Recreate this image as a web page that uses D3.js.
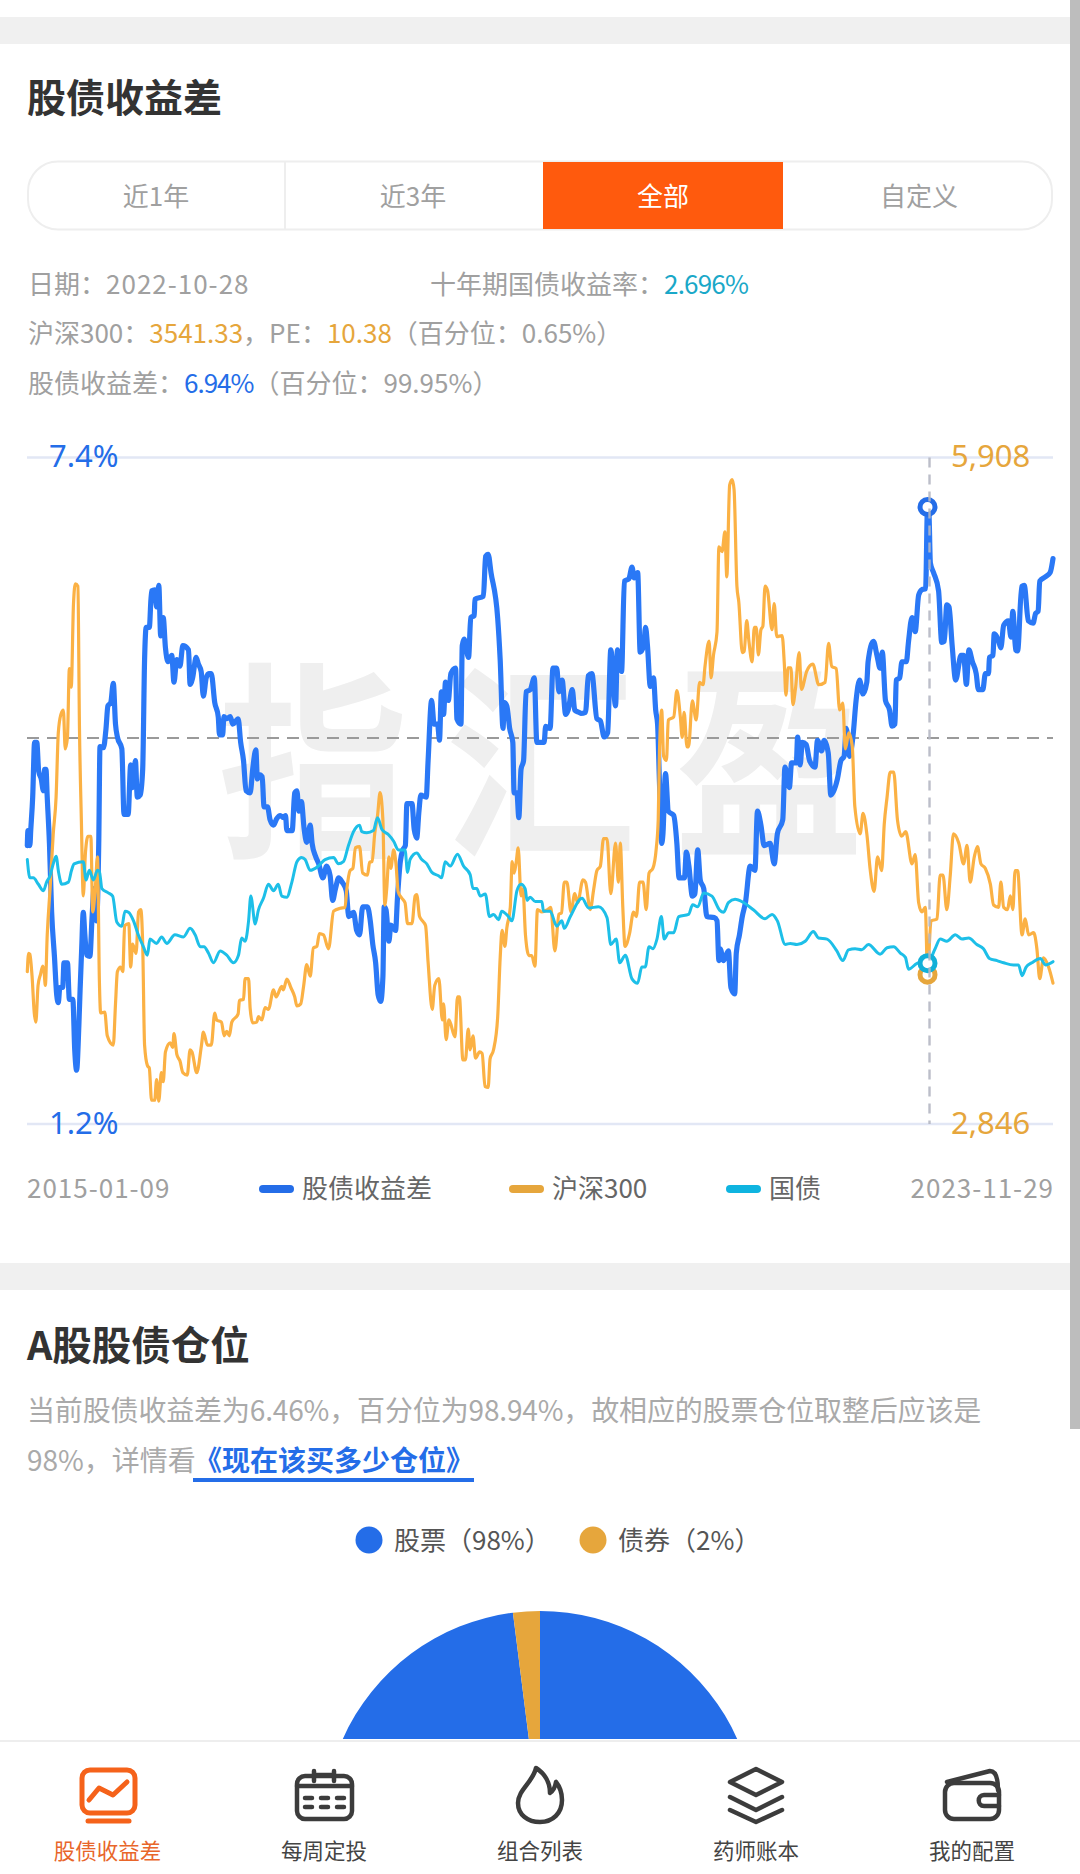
<!DOCTYPE html>
<html>
<head>
<meta charset="utf-8">
<script src="https://cdn.jsdelivr.net/npm/d3@7"></script>
<style>
html, body { margin: 0; padding: 0; background: #fff; }
svg { display: block; }
text { font-family: "Noto Sans CJK SC", "Noto Sans", sans-serif; }
</style>
</head>
<body>
<svg id="page" width="1080" height="1874"></svg>
<script>
// day offsets are counted from startDate
var startDate = "2015-01-09";
var endDate = "2023-11-29";
var markDate = "2022-10-28";

var spreadDays = [1,3,9,12,18,24,31,37,45,52,56,60,64,71,78,87,94,99,104,113,117,128,134,145,151,157,164,168,173,178,183,189,199,206,212,220,227,231,242,250,256,265,273,280,286,300,307,320,328,334,343,349,358,366,372,377,387,394,404,410,417,423,431,438,446,458,465,474,484,493,511,516,524,535,542,551,558,567,575,583,594,605,609,619,623,632,643,651,668,676,685,693,706,714,724,729,735,744,750,761,769,780,790,801,811,818,822,839,847,854,860,868,877,885,896,902,913,923,936,948,959,967,976,986,997,1010,1018,1033,1043,1052,
1062,1077,1086,1094,1103,1111,1119,1126,1130,1136,1145,1151,1160,1166,1172,1181,1189,1197,1202,1218,1225,1233,1240,1246,1263,1269,1280,1288,1299,1305,1311,1318,1324,1333,1341,1356,1360,1373,1377,1383,1397,1404,1415,1417,1444,1451,1459,1468,1489,1497,1506,1510,1518,1527,1537,1541,1550,1556,1563,1571,1579,1592,1605,1613,1636,1641,1655,1664,1676,1683,1693,1704,1712,1725,1733,1746,1752,1767,1776,1787,1803,1814,1826,1837,1847,1862,1868,1881,1890,1904,1914,1921,1932,1940,1951,1957,1963,1972,1982,1989,1995,2001,2008,2012,2020,2029,2046,2056,2063,2080,2086,2094,2105,2113,2122,2130,2141,2151,2174,2183,2189,
2193,2204,2219,2227,2239,2244,2254,2263,2273,2288,2303,2311,2322,2332,2351,2364,2374,2391,2398,2412,2419,2434,2438,2446,2453,2465,2476,2493,2501,2514,2522,2535,2543,2564,2575,2585,2592,2602,2613,2623,2634,2645,2657,2661,2678,2689,2699,2706,2716,2729,2737,2746,2750,2761,2768,2782,2789,2800,2810,2821,2831,2843,2849,2853,2858,2868,2884,2894,2902,2910,2917,2927,2938,2955,2963,2972,2980,2991,3003,3010,3024,3032,3042,3045,3056,3060,3074,3081,3090,3105,3113,3119,3128,3134,3147,3155,3168,3183,3191,3199,3204,3222,3237,3246];
var spreadValues = [3.79,3.93,3.79,3.94,4.24,4.75,4.75,4.48,4.41,4.30,4.50,4.50,4.24,3.81,3.17,2.75,2.40,2.33,2.47,2.47,2.70,2.70,2.36,2.36,1.89,1.70,2.11,2.45,2.83,3.17,2.96,2.77,2.76,3.13,3.39,3.09,3.81,4.71,4.70,4.88,5.09,5.12,5.30,4.92,4.80,4.69,4.08,4.08,4.54,4.33,4.58,4.24,4.26,4.50,5.52,5.82,5.82,6.16,6.17,6.01,6.21,5.74,5.91,5.63,5.50,5.56,5.31,5.52,5.46,5.65,5.61,5.29,5.35,5.54,5.48,5.41,5.18,5.35,5.39,5.39,5.12,4.99,4.82,4.82,4.99,4.97,4.99,4.92,4.97,4.75,4.58,4.30,4.28,4.50,4.68,4.41,4.45,4.43,4.15,4.15,4.03,3.98,4.04,4.07,4.05,4.07,3.93,3.93,4.28,4.30,4.11,4.20,3.94,3.82,3.98,3.81,3.69,3.62,3.49,3.60,3.51,3.28,3.39,3.49,3.45,3.37,3.13,3.17,3.00,2.96,
3.22,3.22,3.09,2.87,2.70,2.40,2.34,2.57,3.22,3.19,2.90,3.05,3.02,3.00,3.30,3.64,3.75,3.79,4.18,4.18,3.94,3.86,4.11,4.26,4.24,4.58,5.14,4.92,4.92,4.77,5.22,5.01,5.31,5.14,5.39,5.44,4.97,4.92,5.65,5.71,5.54,5.91,5.93,6.08,6.11,6.48,6.50,6.33,5.91,5.52,4.88,5.12,5.09,4.88,4.75,4.28,4.28,4.05,4.50,4.58,5.22,5.24,5.35,4.75,4.75,4.90,4.88,5.44,5.44,5.22,5.33,5.01,5.05,5.24,5.05,5.03,5.02,5.03,5.37,5.39,4.97,4.95,4.80,4.84,5.61,5.09,5.61,5.41,6.25,6.27,6.38,6.28,6.33,5.59,5.65,5.82,5.65,5.27,5.35,5.05,4.92,4.37,3.81,3.90,4.46,4.11,4.07,3.81,3.49,3.49,3.73,3.60,3.32,3.34,3.75,3.47,3.39,3.13,3.12,3.09,2.72,
2.83,2.72,2.81,2.47,2.41,2.79,2.96,3.13,3.26,3.60,3.56,4.11,3.98,3.79,3.81,3.62,3.90,4.03,4.52,4.33,4.56,4.56,4.80,4.54,4.75,4.73,4.58,4.52,4.77,4.67,4.77,4.65,4.26,4.41,4.58,4.62,4.88,4.62,4.80,5.14,5.33,5.20,5.31,5.50,5.69,5.56,5.44,5.59,5.14,5.05,4.90,4.92,5.33,5.35,5.50,5.50,5.69,5.91,5.78,6.12,6.17,6.18,6.94,6.93,6.42,6.33,6.16,5.68,5.69,6.03,6.01,5.65,5.33,5.56,5.56,5.29,5.61,5.50,5.39,5.24,5.24,5.39,5.39,5.54,5.56,5.76,5.69,5.63,5.84,5.88,5.73,5.97,5.61,5.60,6.20,6.21,5.88,5.86,5.95,5.97,6.25,6.29,6.33,6.46];

var indexDays = [1,5,9,16,23,28,35,43,50,54,58,64,73,83,92,99,107,115,121,128,134,140,147,153,161,166,172,178,185,193,202,208,216,223,229,233,246,254,273,280,286,296,303,309,322,328,334,345,353,360,366,372,381,387,394,404,410,417,425,431,438,453,461,465,474,484,493,507,516,522,537,552,558,571,583,594,600,615,624,632,640,648,668,672,685,690,701,706,714,727,732,743,753,764,780,788,806,811,822,835,847,854,866,875,885,896,906,917,925,938,954,970,991,1006,1012,1022,1031,1039,1052,
1062,1077,1084,1092,1100,1109,1117,1126,1132,1138,1145,1151,1160,1168,1174,1186,1196,1204,1218,1228,1233,1242,1254,1261,1269,1282,1290,1303,1314,1318,1326,1335,1354,1362,1368,1379,1387,1396,1402,1411,1419,1432,1440,1449,1459,1465,1476,1489,1497,1503,1512,1518,1529,1535,1541,1548,1554,1563,1569,1577,1588,1597,1607,1615,1629,1647,1657,1670,1683,1691,1700,1708,1721,1733,1742,1759,1767,1782,1793,1803,1814,1824,1835,1847,1862,1871,1877,1885,1892,1906,1919,1928,1938,1949,1959,1968,1980,1991,1997,2001,2008,2014,2023,2029,2046,2056,2067,2073,2079,2088,2093,2105,2117,2128,2139,2145,2158,2164,2172,2183,2189,
2199,2208,2214,2223,2231,2237,2246,2252,2263,2269,2277,2284,2294,2301,2307,2314,2322,2328,2335,2343,2357,2364,2372,2389,2396,2401,2408,2417,2423,2431,2443,2450,2467,2486,2505,2525,2536,2546,2560,2571,2581,2589,2600,2611,2619,2636,2645,2657,2668,2680,2691,2704,2712,2721,2731,2742,2754,2767,2780,2800,2810,2821,2831,2842,2849,2860,2879,2889,2898,2910,2921,2931,2948,2963,2974,2984,2997,3007,3018,3032,3048,3058,3074,3081,3090,3102,3111,3119,3126,3134,3148,3158,3169,3185,3195,3204,3216,3232,3246];
var indexValues = [3546,3630,3626,3525,3356,3314,3483,3535,3571,3546,3483,3715,3926,4179,4347,4643,4727,4748,4569,4622,4938,4853,5233,5328,5317,4664,4242,3894,4094,4168,4168,3820,3926,4073,3504,3356,3360,3251,3208,3398,3546,3567,3546,3757,3767,3567,3672,3630,3820,3831,3672,3208,3114,3103,2955,2955,3050,2951,3082,3040,3177,3219,3198,3261,3166,3135,3082,3071,3187,3177,3082,3208,3268,3208,3208,3356,3324,3314,3251,3272,3251,3314,3352,3413,3419,3514,3514,3377,3310,3314,3339,3324,3381,3373,3462,3430,3478,3462,3512,3472,3430,3388,3398,3478,3578,3525,3655,3662,3721,3715,3651,3824,3837,3841,3926,4010,4020,4115,4120,
3999,3989,4048,4052,4179,4263,4368,4242,3852,3926,4073,4020,4105,4031,3915,3883,3862,3767,3767,3894,3900,3799,3774,3757,3588,3373,3483,3514,3324,3398,3234,3324,3246,3430,3430,3141,3141,3282,3187,3251,3149,3177,3170,3019,3014,3145,3187,3335,3609,3736,3662,3746,3841,4052,3999,4052,4115,3894,3926,3715,3620,3620,3571,3831,3820,3831,3841,3641,3810,3816,3957,3957,3820,3904,3862,3968,3957,3831,3926,4010,4031,4157,4157,3904,4136,3957,4136,3841,3662,3719,3820,3799,3957,3957,3831,3999,4020,4115,4242,4558,4748,4537,4516,4702,4716,4837,4716,4622,4737,4579,4579,4790,4702,4875,4864,4948,5064,4896,5001,5107,5497,
5476,5566,5360,5781,5807,5760,5317,5244,5012,5018,5159,5064,4969,5128,5128,5001,5117,5132,5317,5296,5117,5237,5085,5090,4959,4816,4942,4942,4773,4843,5012,4843,4927,4959,4864,4875,5054,4948,4938,4748,4780,4569,4643,4579,4305,4179,4273,4179,4010,3915,4073,4010,4221,4347,4463,4463,4242,4168,4189,4041,4084,3862,3820,3841,3541.33,3778,3788,3989,3989,3831,3989,4179,4136,4041,4126,3957,4073,4120,4041,4020,3947,3852,3841,3957,3841,3831,3894,3831,4010,4010,3715,3788,3715,3725,3651,3514,3609,3567,3493];

var bondDays = [1,9,20,36,52,62,73,83,92,100,110,131,141,149,178,187,197,210,223,229,237,257,271,284,300,310,321,337,352,368,381,389,410,426,442,468,495,516,532,548,560,574,590,611,632,653,669,679,690,701,708,722,732,748,764,780,795,806,822,838,854,869,880,896,922,943,970,985,1001,1017,1033,1052,
1059,1075,1096,1109,1123,1144,1160,1175,1196,1204,1212,1233,1249,1265,1281,1302,1312,1323,1339,1362,1381,1402,1411,1423,1434,1450,1463,1476,1492,1502,1523,1534,1550,1563,1576,1582,1592,1608,1629,1634,1655,1676,1692,1700,1719,1756,1777,1808,1835,1847,1864,1875,1893,1914,1932,1945,1956,1968,1980,1993,2007,2016,2030,2046,2062,2093,2106,2122,2141,2167,2191,
2204,2219,2240,2267,2299,2335,2357,2374,2399,2415,2436,2462,2488,2504,2531,2562,2581,2599,2620,2641,2662,2699,2721,2742,2763,2779,2789,2821,2849,2873,2889,2910,2937,2958,2979,3005,3026,3045,3069,3090,3121,3137,3148,3161,3179,3206,3222,3246];
var bondValues = [3.66,3.49,3.49,3.43,3.37,3.45,3.51,3.62,3.69,3.54,3.43,3.45,3.56,3.62,3.64,3.47,3.56,3.47,3.56,3.55,3.39,3.35,3.32,3.08,3.04,3.18,3.17,3.09,2.96,2.85,2.77,2.92,2.88,2.94,2.88,2.96,2.94,3.02,2.96,2.85,2.85,2.79,2.70,2.81,2.77,2.70,2.77,2.93,2.90,3.09,3.32,3.06,3.19,3.30,3.43,3.37,3.43,3.32,3.31,3.45,3.64,3.68,3.66,3.56,3.60,3.66,3.68,3.62,3.64,3.79,3.92,3.98,
3.92,3.91,3.93,4.05,3.94,3.89,3.83,3.75,3.75,3.54,3.66,3.72,3.66,3.62,3.54,3.51,3.49,3.64,3.60,3.71,3.60,3.52,3.39,3.39,3.32,3.34,3.13,3.15,3.10,3.18,3.13,3.09,3.37,3.43,3.39,3.28,3.31,3.27,3.27,3.18,3.18,3.04,3.09,3.02,3.13,3.30,3.21,3.22,3.12,2.87,2.92,2.70,2.77,2.55,2.51,2.66,2.66,2.85,2.83,2.92,3.13,2.92,2.98,2.98,3.13,3.15,3.24,3.22,3.35,3.32,3.19,
3.17,3.26,3.29,3.26,3.19,3.11,3.15,3.09,2.87,2.88,2.87,2.90,2.99,2.93,2.92,2.81,2.72,2.82,2.83,2.82,2.87,2.78,2.84,2.85,2.79,2.75,2.64,2.70,2.696,2.83,2.92,2.90,2.96,2.92,2.93,2.87,2.83,2.74,2.72,2.70,2.68,2.68,2.58,2.66,2.70,2.74,2.68,2.71];

var markSpread = 6.94;
var markIndex = 3541.33;
var markBond = 2.696;
var spreadRange = [1.2, 7.4];
var indexRange = [2846, 5908];
var spreadMean = 4.79;
var legendNames = ["股债收益差", "沪深300", "国债"];
var tabNames = ["近1年", "近3年", "全部", "自定义"];
var pieNames = ["股票（98%）", "债券（2%）"];
var pieValues = [98, 2];
var navNames = ["股债收益差", "每周定投", "组合列表", "药师账本", "我的配置"];

var BLUE = "#2a78f6", ORANGE = "#fbb144", CYAN = "#1dbfe8";
var TEXT_BLUE = "#246de8", TEXT_ORANGE = "#e6a63c", TEXT_CYAN = "#1aa8c8";
var GREY = "#a0a0a0", DARK = "#333";

var svg = d3.select("#page");

// noto sits a little low with central baseline
var textLift = 2.5;

function addText(x, y, str, size, color, anchor, weight) {
    return svg.append("text")
        .attr("x", x)
        .attr("y", y - textLift)
        .attr("dominant-baseline", "central")
        .attr("text-anchor", anchor || "start")
        .attr("font-size", size)
        .attr("font-weight", weight || 400)
        .attr("fill", color)
        .text(str);
}

function addParts(x, y, parts, size) {
    var t = svg.append("text")
        .attr("x", x)
        .attr("y", y - textLift)
        .attr("dominant-baseline", "central")
        .attr("font-size", size);
    parts.forEach(function(p) {
        t.append("tspan").attr("fill", p[1]).attr("letter-spacing", p[2] || 0).text(p[0]);
    });
}

function band(y0, y1) {
    svg.append("rect").attr("x", 0).attr("y", y0).attr("width", 1080).attr("height", y1 - y0).attr("fill", "#f0f0f0");
}

band(17, 44);
band(1263, 1290);

addText(27, 97, "股债收益差", 39, DARK, "start", 700);

// tabs
svg.append("rect").attr("x", 28).attr("y", 161.5).attr("width", 1024).attr("height", 68)
    .attr("rx", 30).attr("fill", "#fff").attr("stroke", "#eee").attr("stroke-width", 2);
svg.append("line").attr("x1", 285).attr("x2", 285).attr("y1", 162).attr("y2", 229).attr("stroke", "#eee").attr("stroke-width", 2);
svg.append("rect").attr("x", 543).attr("y", 162).attr("width", 240).attr("height", 67).attr("fill", "#ff5a0d");
var tabCenters = [156, 413, 663, 919];
tabNames.forEach(function(name, i) {
    addText(tabCenters[i], 197, name, 26, i == 2 ? "#fff" : GREY, "middle");
});

// readout
addParts(28, 284, [["日期：", GREY], [markDate, GREY, 1]], 26);
addParts(430, 284, [["十年期国债收益率：", GREY], [markBond + "%", TEXT_CYAN, -0.8]], 26);
addParts(28, 333, [["沪深300：", GREY], [String(markIndex), TEXT_ORANGE], ["，PE：", GREY], ["10.38", TEXT_ORANGE], ["（百分位：0.65%）", GREY]], 26);
addParts(28, 383, [["股债收益差：", GREY], [markSpread + "%", TEXT_BLUE, -1], ["（百分位：99.95%）", GREY]], 26);

// scales
var parseDay = d3.timeParse("%Y-%m-%d");
var start = parseDay(startDate);
var x = d3.scaleTime().domain([start, parseDay(endDate)]).range([27, 1053]);
var ySpread = d3.scaleLinear().domain(spreadRange).range([1124, 457.5]);
var yIndex = d3.scaleLinear().domain(indexRange).range([1124, 457.5]);

// watermark
svg.append("text")
    .attr("transform", "translate(560,750) scale(1,1.1)")
    .attr("dominant-baseline", "central")
    .attr("text-anchor", "middle")
    .attr("font-size", 190)
    .attr("font-weight", 700)
    .attr("letter-spacing", 38)
    .attr("fill", "#efefef")
    .text("指汇盈");

// grid lines
spreadRange.forEach(function(v) {
    svg.append("line").attr("x1", 27).attr("x2", 1053).attr("y1", ySpread(v)).attr("y2", ySpread(v))
        .attr("stroke", "#e2e7f5").attr("stroke-width", 2.5);
});
svg.append("line").attr("x1", 27).attr("x2", 1053).attr("y1", ySpread(spreadMean)).attr("y2", ySpread(spreadMean))
    .attr("stroke", "#9a9a9a").attr("stroke-width", 2).attr("stroke-dasharray", "12,8");

function drawSeries(days, values, yScale, color, width) {
    var rows = days.map(function(d, i) {
        return { date: d3.timeDay.offset(start, d), value: values[i] };
    });
    var line = d3.line()
        .x(function(d) { return x(d.date); })
        .y(function(d) { return yScale(d.value); })
        .curve(d3.curveMonotoneX);
    svg.append("path").datum(rows)
        .attr("d", line)
        .attr("fill", "none")
        .attr("stroke", color)
        .attr("stroke-width", width)
        .attr("stroke-linejoin", "round")
        .attr("stroke-linecap", "round");
}

drawSeries(spreadDays, spreadValues, ySpread, BLUE, 5.2);
drawSeries(indexDays, indexValues, yIndex, ORANGE, 3.2);
drawSeries(bondDays, bondValues, ySpread, CYAN, 3);

// selected date
var markX = x(parseDay(markDate));
function marker(y, color) {
    svg.append("circle").attr("cx", markX).attr("cy", y).attr("r", 7.5)
        .attr("fill", "#fff").attr("stroke", color).attr("stroke-width", 5);
}
marker(yIndex(markIndex) + 2, TEXT_ORANGE);
marker(ySpread(markBond), "#12b0d8");
marker(ySpread(markSpread), TEXT_BLUE);
svg.append("line").attr("x1", markX + 2).attr("x2", markX + 2).attr("y1", 457.5).attr("y2", 1124)
    .attr("stroke", "#b5b8c4").attr("stroke-width", 2.4).attr("stroke-dasharray", "10,7").attr("opacity", 0.9);

// axis labels
addText(49, ySpread(7.4), "7.4%", 31, TEXT_BLUE).style("font-family", "Noto Sans");
addText(49, ySpread(1.2), "1.2%", 31, TEXT_BLUE).style("font-family", "Noto Sans");
addText(951, yIndex(5908), d3.format(",")(5908), 31, TEXT_ORANGE).style("font-family", "Noto Sans");
addText(951, yIndex(2846), d3.format(",")(2846), 31, TEXT_ORANGE).style("font-family", "Noto Sans");

// legend row
addText(27, 1189, startDate, 26, GREY).attr("letter-spacing", 1);
addText(1054, 1189, endDate, 26, GREY, "end").attr("letter-spacing", 1);
var legendX = [259, 509, 726];
var legendColors = [TEXT_BLUE, TEXT_ORANGE, "#0fb4e0"];
legendNames.forEach(function(name, i) {
    svg.append("rect").attr("x", legendX[i]).attr("y", 1185).attr("width", 35).attr("height", 8)
        .attr("rx", 4).attr("fill", legendColors[i]);
    addText(legendX[i] + 43, 1189, name, 26, "#666");
});

// second section
addText(27, 1345, "A股股债仓位", 39.5, DARK, "start", 700);
addText(27, 1411, "当前股债收益差为6.46%，百分位为98.94%，故相应的股票仓位取整后应该是", 28, "#aaa").attr("letter-spacing", -0.15);
addText(27, 1461, "98%，详情看", 28, "#aaa");
addText(194, 1461, "《现在该买多少仓位》", 28, TEXT_BLUE, "start", 700);
svg.append("rect").attr("x", 193).attr("y", 1478).attr("width", 281).attr("height", 4).attr("fill", TEXT_BLUE);

var pieColors = [TEXT_BLUE, TEXT_ORANGE];
var pieLegendX = [369, 593];
pieNames.forEach(function(name, i) {
    svg.append("circle").attr("cx", pieLegendX[i]).attr("cy", 1540).attr("r", 13.5).attr("fill", pieColors[i]);
    addText(pieLegendX[i] + 25, 1541, name, 26, "#555");
});

var pie = d3.pie().sort(null);
var arc = d3.arc().innerRadius(0).outerRadius(216);
svg.append("g").attr("transform", "translate(540,1827)")
    .selectAll("path")
    .data(pie(pieValues))
    .enter()
    .append("path")
    .attr("d", arc)
    .attr("fill", function(d, i) { return pieColors[i]; });

// bottom nav covers the rest of the pie
svg.append("rect").attr("x", 0).attr("y", 1739).attr("width", 1080).attr("height", 135).attr("fill", "#fff");
svg.append("line").attr("x1", 0).attr("x2", 1080).attr("y1", 1741).attr("y2", 1741).attr("stroke", "#eee").attr("stroke-width", 2);

var navX = [107.5, 324, 540, 756, 972];
navNames.forEach(function(name, i) {
    addText(navX[i], 1852, name, 21.5, i == 0 ? "#e8662a" : "#444", "middle");
});

function icon(color, width) {
    return svg.append("g").attr("fill", "none").attr("stroke", color).attr("stroke-width", width)
        .attr("stroke-linecap", "round").attr("stroke-linejoin", "round");
}

// chart icon
var ic = icon("#f5621a", 5);
ic.append("rect").attr("x", 82).attr("y", 1770).attr("width", 53).attr("height", 43).attr("rx", 8);
ic.append("path").attr("d", "M89 1800 L99 1788 L113 1795 L127 1782");
ic.append("path").attr("d", "M88 1821 H129");

// calendar icon
ic = icon("#3c3c3c", 4.5);
ic.append("rect").attr("x", 297).attr("y", 1776).attr("width", 55).attr("height", 43).attr("rx", 8);
ic.append("path").attr("d", "M297 1786 H352 M314 1771 V1781 M334 1771 V1781 M314 1775 H334");
ic.append("path").attr("d", "M305 1798 H312 M321 1798 H328 M337 1798 H344 M305 1807 H312 M321 1807 H328 M337 1807 H344");

// flame icon
ic = icon("#3c3c3c", 4.5);
ic.append("path").attr("d", "M536 1768 C533 1782 518 1790 518 1803 C518 1815 528 1822 540 1822 C553 1822 562 1813 562 1800 C562 1793 560 1787 556 1782 C555 1788 553 1791 550 1793 C550 1782 544 1773 536 1768 Z");

// layers icon
ic = icon("#3c3c3c", 4.5);
ic.append("path").attr("d", "M756 1769 L782 1782 L756 1795 L730 1782 Z");
ic.append("path").attr("d", "M730 1797 L756 1810 L782 1797");
ic.append("path").attr("d", "M730 1810 L756 1822 L782 1810");

// wallet icon
ic = icon("#3c3c3c", 4.5);
ic.append("rect").attr("x", 945).attr("y", 1783).attr("width", 54).attr("height", 36).attr("rx", 9);
ic.append("path").attr("d", "M947 1782 L990 1771 C996 1771 998 1778 998 1790");
ic.append("path").attr("d", "M999 1795 H984 C977 1795 977 1806 984 1806 H999");

// scrollbar
svg.append("rect").attr("x", 1070).attr("y", 0).attr("width", 10).attr("height", 1429).attr("fill", "#bdbdbd");
</script>
</body>
</html>
